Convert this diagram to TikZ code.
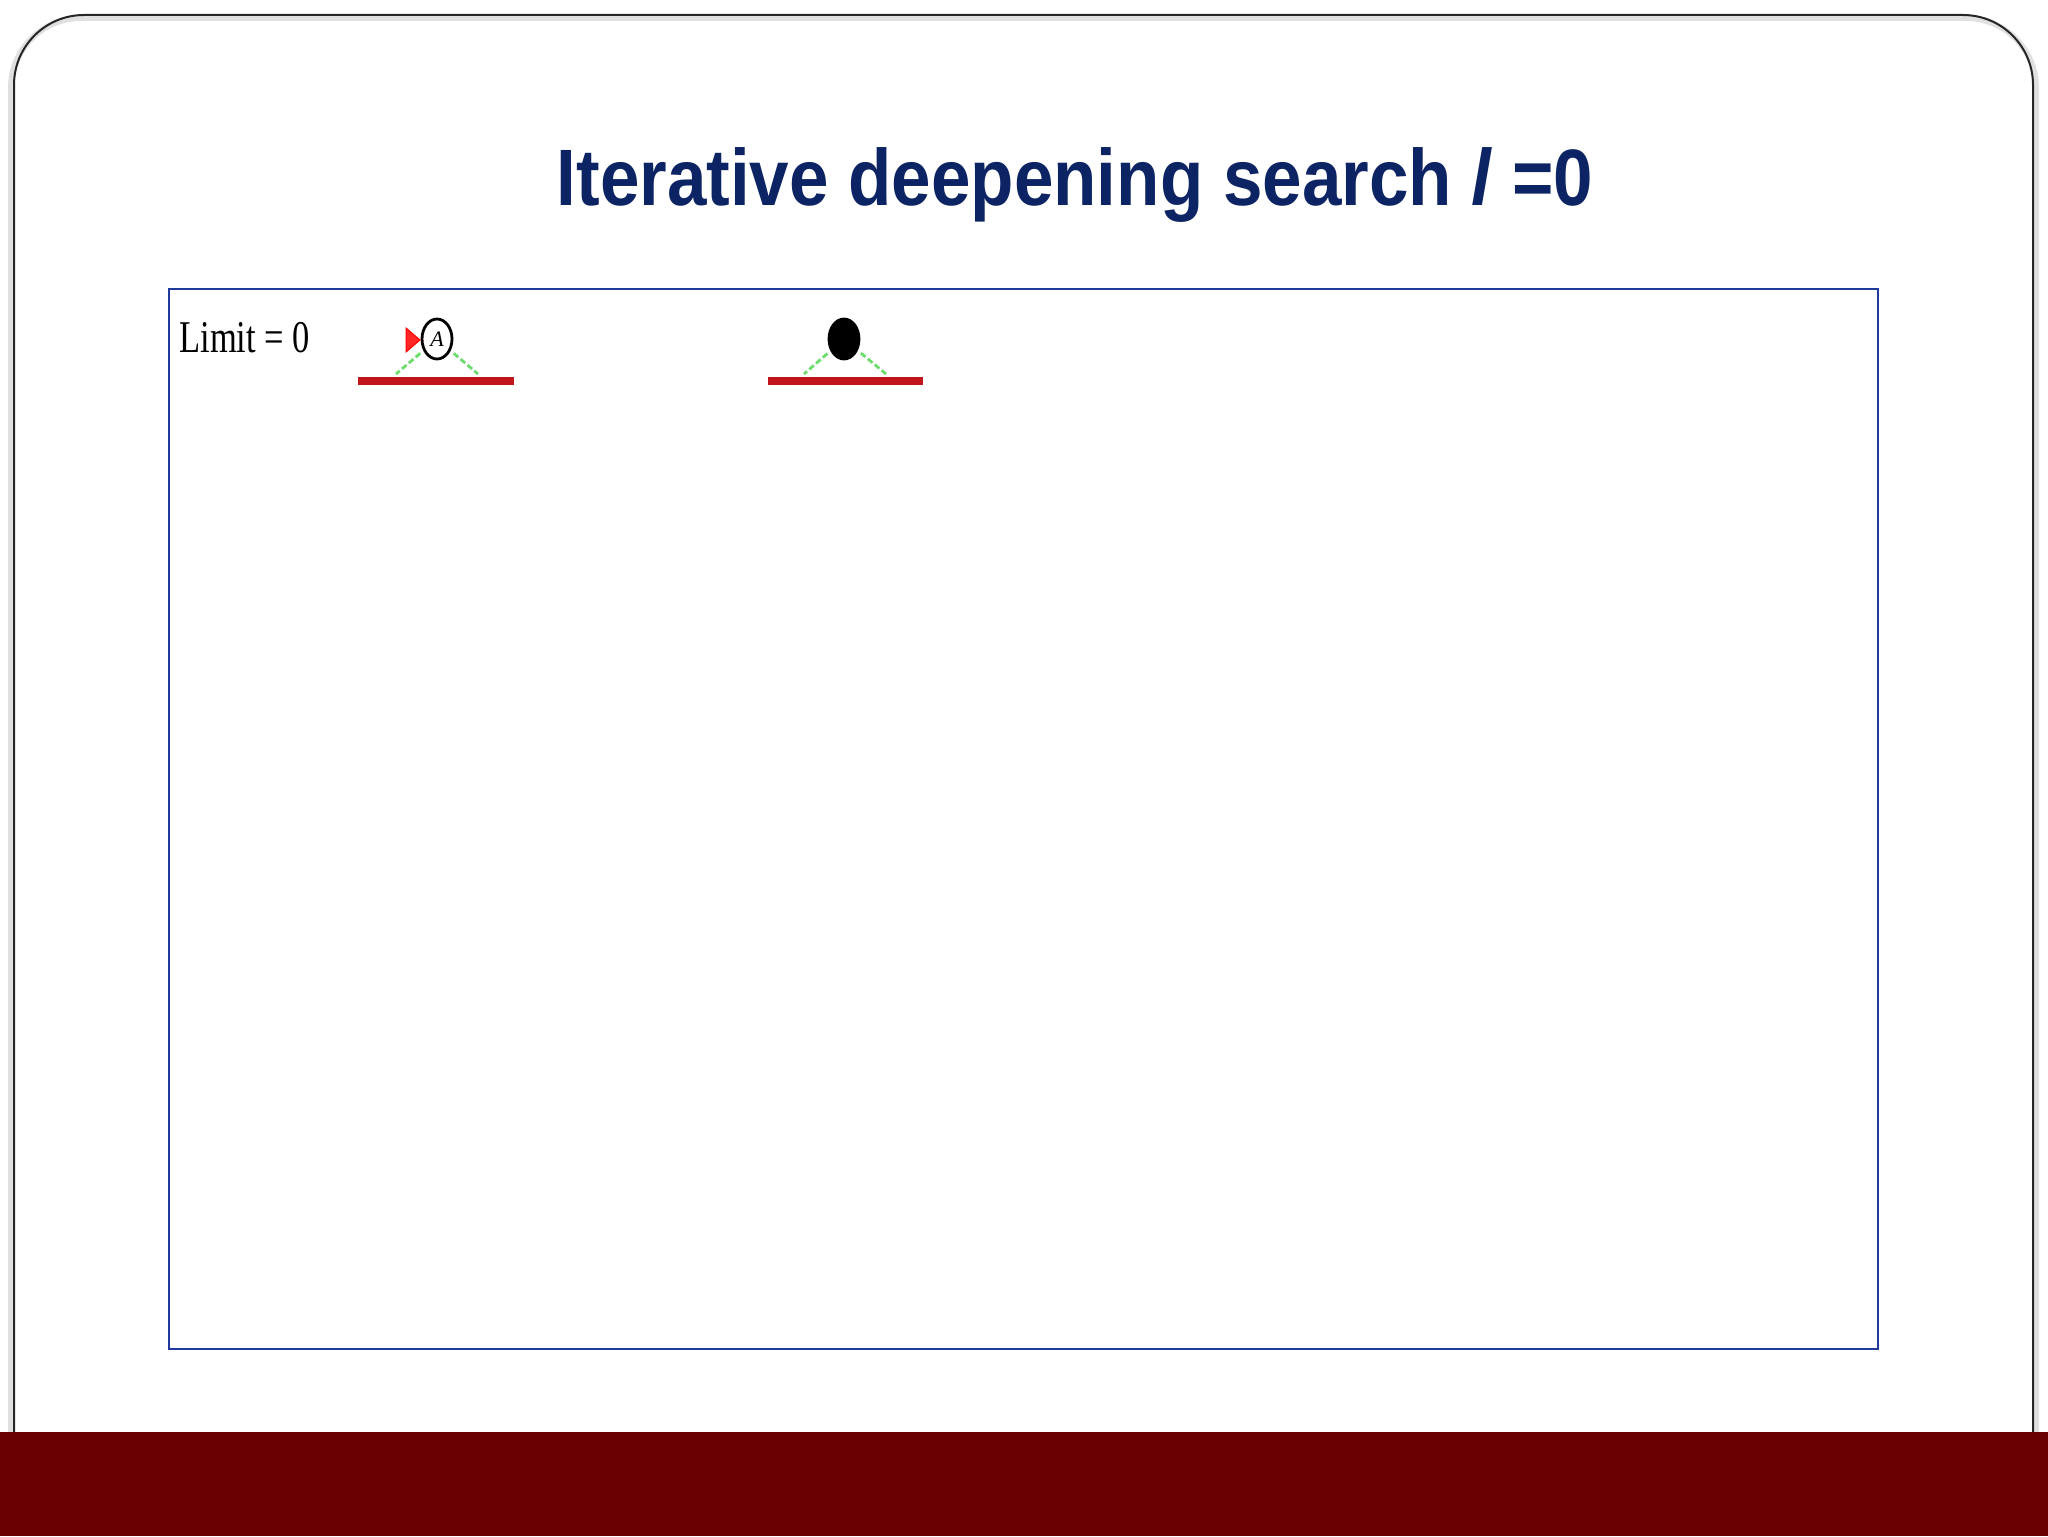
\documentclass[tikz,border=0pt]{standalone}
\usepackage{fontspec}
\setmainfont{Liberation Serif}
\newfontfamily\titlefont{Liberation Sans}
\usetikzlibrary{shapes.geometric}
\definecolor{bandred}{HTML}{6B0000}
\definecolor{titleblue}{HTML}{0C2364}
\definecolor{boxblue}{HTML}{1F3A9A}
\definecolor{barred}{HTML}{C0161B}
\definecolor{edgegreen}{HTML}{6CDC6C}
\tikzset{
  treenode/.style={ellipse, draw=black, line width=1.4pt, minimum width=15pt, minimum height=20pt, inner sep=0pt},
  blacknode/.style={treenode, fill=black},
  depthbar/.style={line width=4pt, draw=barred},
  treeedge/.style={draw=edgegreen, line width=1.4pt, dash pattern=on 3pt off 1.5pt, shorten <=2pt},
  frameline/.style={draw=black!85, line width=1pt},
}
\begin{document}
\begin{tikzpicture}[x=0.5pt,y=-0.5pt]
\useasboundingbox (0,0) rectangle (2048,1536);
% shadow and frame
\draw[line width=3pt, black!12, rounded corners=35pt] (11,1432) -- (11,18) -- (2036,18) -- (2036,1432);
\draw[frameline, rounded corners=35pt] (14,1432) -- (14,15) -- (2033,15) -- (2033,1432);
% bottom band
\fill[bandred] (0,1432) rectangle (2048,1536);
% title
\node[anchor=base, text=titleblue, inner sep=0pt] (title) at (1075,205)
  {\scalebox{0.887}[1]{\titlefont\fontsize{40}{48}\selectfont\bfseries Iterative deepening search \textit{l} =0}};
% content box
\draw[draw=boxblue, line width=1pt] (169,289) rectangle (1878,1349);
% limit label
\node[anchor=base west, inner sep=0pt] (limit) at (179,352)
  {\scalebox{0.76}[1]{\fontsize{22.7}{26}\selectfont Limit = 0}};
% tree 1
\node[treenode] (A) at (437,339) {\fontsize{11}{12}\selectfont\itshape A};
\fill[red!85, draw=red, line width=0.5pt] (406,328) -- (420,340) -- (406,352) -- cycle;
\coordinate (bar1l) at (358,381);
\coordinate (bar1r) at (514,381);
\draw[depthbar] (bar1l) -- (bar1r);
\coordinate (a1) at (396,374);
\coordinate (a2) at (478,374);
\draw[treeedge] (A) -- (a1);
\draw[treeedge] (A) -- (a2);
% tree 2
\node[blacknode] (B) at (844,339) {};
\coordinate (bar2l) at (768,381);
\coordinate (bar2r) at (923,381);
\draw[depthbar] (bar2l) -- (bar2r);
\coordinate (b1) at (804,374);
\coordinate (b2) at (886,374);
\draw[treeedge] (B) -- (b1);
\draw[treeedge] (B) -- (b2);
\end{tikzpicture}
\end{document}
